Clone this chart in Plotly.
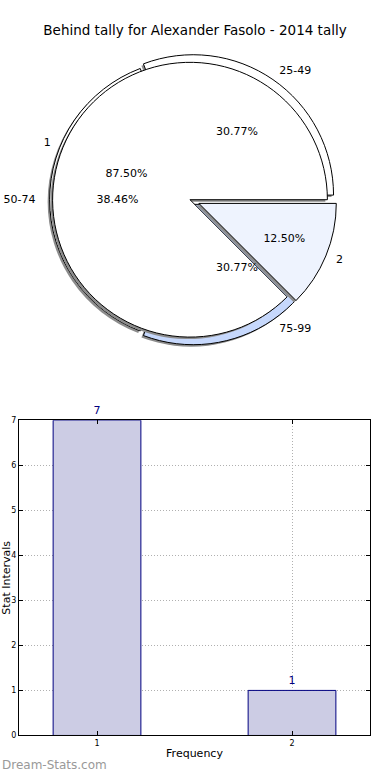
import plotly.graph_objects as go

# ---- data ----
title_text = "Behind tally for Alexander Fasolo - 2014 tally"
outer_labels = ["25-49", "50-74", "75-99"]
outer_values = [4, 5, 4]
inner_labels = ["1", "2"]
inner_values = [7, 1]
bar_x = [1, 2]
bar_y = [7, 1]

W, H = 390, 780

outer_colors = ["#ffffff", "#ffffff", "#c6d8fc"]
inner_colors = ["#ffffff", "#eef3fe"]
font_family = "DejaVu Sans, sans-serif"

cx, cy = 190, 198


def dom(half, ox=0, oy=0):
    return dict(
        x=[(cx + ox - half) / W, (cx + ox + half) / W],
        y=[1 - (cy + oy + half) / H, 1 - (cy + oy - half) / H],
    )


def start_rot(values):
    # first slice starts at 3 o'clock and runs counterclockwise (matplotlib style)
    return 90 - 360.0 * values[0] / sum(values)


outer_pull = [0.04, 0.0, 0.04]
inner_pull = [0.0, 0.07]
r_in, r_out = 139, 142

fig = go.Figure()

common = dict(sort=False, direction="counterclockwise",
              showlegend=False, hoverinfo="skip")
oc = dict(rotation=start_rot(outer_values), **common)
ic = dict(rotation=start_rot(inner_values), **common)
clear3 = dict(colors=["rgba(0,0,0,0)"] * 3, line=dict(width=0))
clear2 = dict(colors=["rgba(0,0,0,0)"] * 2, line=dict(width=0))
txt = dict(size=11, color="#000000", family=font_family)

# outer pie: shadow + fill
fig.add_trace(go.Pie(labels=outer_labels, values=outer_values, pull=outer_pull,
                     domain=dom(r_out * 1.04, -2, 2),
                     marker=dict(colors=["#8c8c8c"] * 3, line=dict(width=0)),
                     textinfo="none", **oc))
fig.add_trace(go.Pie(labels=outer_labels, values=outer_values, pull=outer_pull,
                     domain=dom(r_out * 1.04),
                     marker=dict(colors=outer_colors, line=dict(color="#000000", width=1)),
                     textinfo="none", **oc))
# inner pie: shadow + fill
fig.add_trace(go.Pie(labels=inner_labels, values=inner_values, pull=inner_pull,
                     domain=dom(r_in * 1.07, -2, 2),
                     marker=dict(colors=["#8c8c8c"] * 2, line=dict(width=0)),
                     textinfo="none", **ic))
fig.add_trace(go.Pie(labels=inner_labels, values=inner_values, pull=inner_pull,
                     domain=dom(r_in * 1.07),
                     marker=dict(colors=inner_colors, line=dict(color="#000000", width=1)),
                     textinfo="none", **ic))
# percent texts (transparent overlays so all texts sit on top)
fig.add_trace(go.Pie(labels=outer_labels, values=outer_values, pull=outer_pull,
                     domain=dom(r_out * 1.04), marker=clear3,
                     texttemplate="%{percent:.2%}", textposition="inside",
                     insidetextorientation="horizontal", textfont=txt, **oc))
fig.add_trace(go.Pie(labels=inner_labels, values=inner_values, pull=[0, 0.02],
                     domain=dom(r_in * 1.02), marker=clear2,
                     texttemplate="%{percent:.2%}", textposition="inside",
                     insidetextorientation="horizontal", textfont=txt, **ic))
# outside labels
fig.add_trace(go.Pie(labels=outer_labels, values=outer_values,
                     domain=dom(153), marker=clear3,
                     texttemplate="%{label}", textposition="outside",
                     textfont=txt, automargin=False, **oc))
fig.add_trace(go.Pie(labels=inner_labels, values=inner_values, pull=[0, 0.05],
                     domain=dom(149 * 1.05), marker=clear2,
                     texttemplate="%{label}", textposition="outside",
                     textfont=txt, automargin=False, **ic))

# bar chart
fig.add_trace(go.Bar(x=bar_x, y=bar_y, width=0.45,
                     marker=dict(color="#ccccE4", line=dict(color="#000080", width=1)),
                     text=[str(v) for v in bar_y], textposition="outside",
                     textfont=dict(size=11, color="#000080", family=font_family),
                     cliponaxis=False, showlegend=False, hoverinfo="skip"))

axis_common = dict(
    showline=True, linecolor="#000000", linewidth=1, mirror="allticks",
    ticks="inside", ticklen=4, tickcolor="#000000",
    showgrid=True, gridcolor="#b0b0b0", griddash="1px,2px", gridwidth=1,
    zeroline=False, tickfont=dict(size=8, family=font_family, color="#000000"),
)

fig.update_layout(
    width=W, height=H,
    margin=dict(l=0, r=0, t=0, b=0),
    paper_bgcolor="#ffffff", plot_bgcolor="#ffffff",
    font=dict(family=font_family, color="#000000"),
    title=dict(text=title_text, x=0.5, xanchor="center", y=1 - 30 / H, yanchor="middle",
               font=dict(size=13.5, family=font_family, color="#000000")),
    xaxis=dict(domain=[19 / W, 370 / W], range=[0.6, 2.4], tickvals=bar_x,
               title=dict(text="Frequency", font=dict(size=11), standoff=2),
               **axis_common),
    yaxis=dict(domain=[1 - 740 / H, 1 - 421 / H], range=[0, 7], dtick=1,
               title=dict(text="Stat Intervals", font=dict(size=11), standoff=0),
               **axis_common),
    annotations=[dict(text="Dream-Stats.com", x=0, y=1 - 770 / H, xref="paper", yref="paper",
                      xanchor="left", yanchor="middle", showarrow=False,
                      font=dict(size=12, color="#999999", family=font_family))],
)

fig.write_html("out.html", config={"displayModeBar": False},
               post_script="document.body.style.margin='0';document.body.style.overflow='hidden';")
